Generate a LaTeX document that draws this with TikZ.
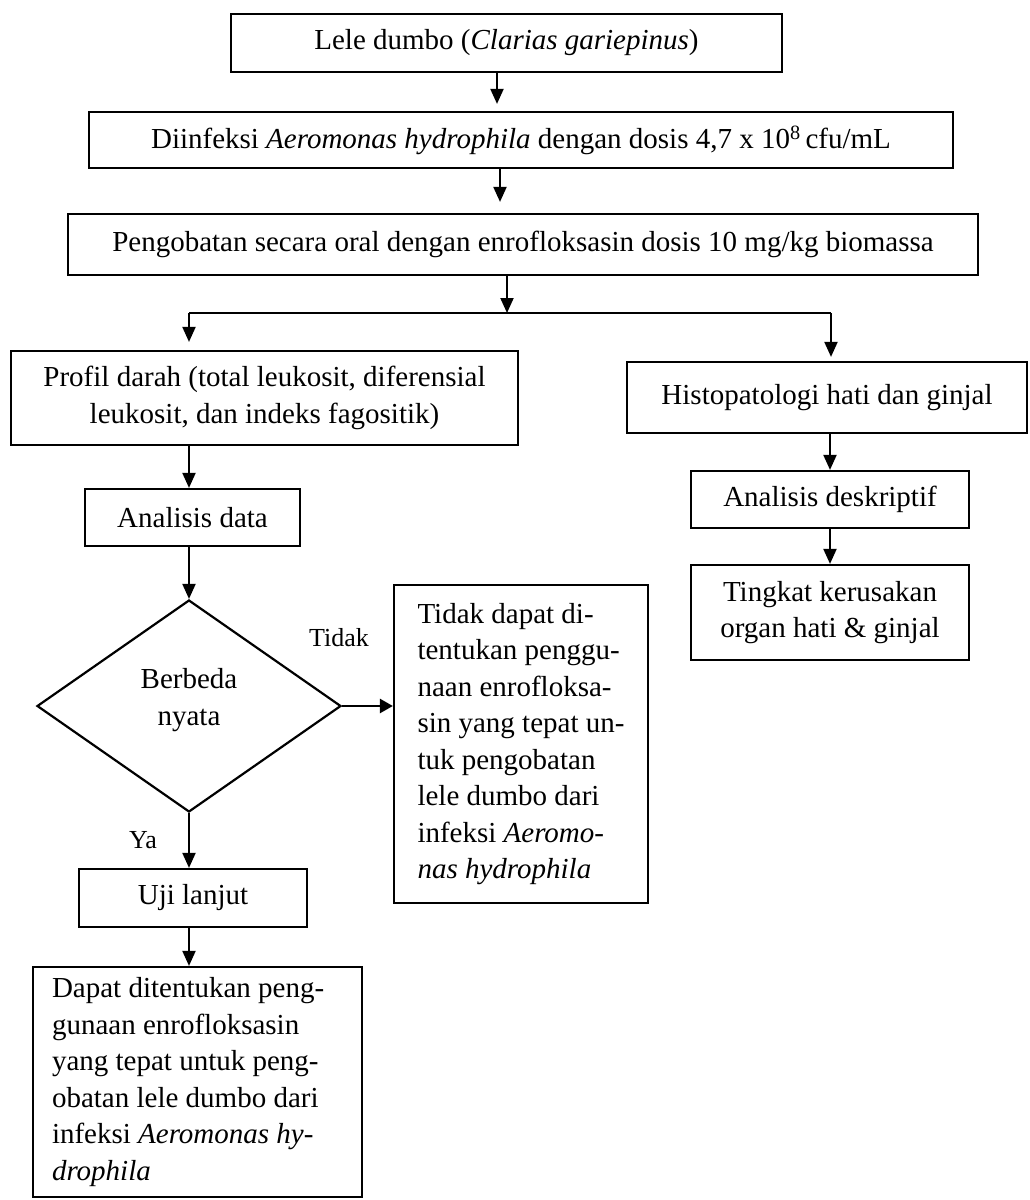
\documentclass[tikz,border=0pt]{standalone}
\usepackage{fontspec}
\setmainfont{Liberation Serif}
\usetikzlibrary{arrows.meta,shapes.geometric,calc}
\begin{document}
\begin{tikzpicture}[x=1pt,y=-1pt,
  box/.style={draw,line width=2.2pt,inner sep=0pt,align=center,font=\fontsize{29}{36.5}\selectfont},
  tbox/.style={draw,line width=2.2pt,inner sep=0pt,align=left,font=\fontsize{29}{36.5}\selectfont},
  arr/.style={line width=2pt,-{Triangle[length=15pt,width=13pt]}},
  lbl/.style={inner sep=0pt,font=\fontsize{26}{30}\selectfont}]
\useasboundingbox (0,0) rectangle (1029,1200);
% nodes
\node[box,minimum width=551pt,minimum height=58pt] (b1) at (506.5,43) {Lele dumbo (\textit{Clarias gariepinus})};
\node[box,minimum width=864pt,minimum height=56pt] (b2) at (521,140) {Diinfeksi \textit{Aeromonas hydrophila} dengan dosis 4,7 x 10\textsuperscript{8}\,cfu/mL};
\node[box,minimum width=910pt,minimum height=61pt] (b3) at (523,244.5) {Pengobatan secara oral dengan enrofloksasin dosis 10 mg/kg biomassa};
\node[box,minimum width=507pt,minimum height=94pt] (pr) at (264.5,398) {Profil darah (total leukosit, diferensial\\leukosit, dan indeks fagositik)};
\node[box,minimum width=400pt,minimum height=71pt] (hi) at (827,397.5) {Histopatologi hati dan ginjal};
\node[box,minimum width=215pt,minimum height=57pt] (ad) at (192.5,517.5) {Analisis data};
\node[box,minimum width=278pt,minimum height=57pt] (de) at (830,499.5) {Analisis deskriptif};
\node[box,minimum width=278pt,minimum height=95pt] (tk) at (830,612.5) {Tingkat kerusakan\\organ hati \& ginjal};
\node[draw,line width=2.2pt,diamond,minimum width=304pt,minimum height=212pt,inner sep=0pt,align=center,font=\fontsize{29}{36.5}\selectfont] (d) at (189,706) {Berbeda\\nyata\\[-18pt]};
\node[tbox,minimum width=254pt,minimum height=318pt] (td) at (521,744) {Tidak dapat di-\\tentukan penggu-\\naan enrofloksa-\\sin yang tepat un-\\tuk pengobatan\\lele dumbo dari\\infeksi \textit{Aeromo-}\\\textit{nas hydrophila}};
\node[box,minimum width=228pt,minimum height=58pt] (uj) at (193,898) {Uji lanjut};
\node[tbox,align=flush left,text width=291pt,inner xsep=19pt,minimum height=230pt] (dp) at (197.5,1082) {Dapat ditentukan peng-\\gunaan enrofloksasin\\yang tepat untuk peng-\\obatan lele dumbo dari\\infeksi \textit{Aeromonas hy-}\\\textit{drophila}};
\node[lbl] (ltidak) at (339,638) {Tidak};
\node[lbl] (lya) at (143,840) {Ya};
% helper coordinates
\coordinate (x1) at (497,0);
\coordinate (x2) at (500,0);
\coordinate (j) at (507,313);
\coordinate (jl) at (189,313);
\coordinate (jr) at (831,313);
% connectors
\draw[arr,shorten >=7pt] (b1.south -| x1) -- (b2.north -| x1);
\draw[arr,shorten >=11pt] (b2.south -| x2) -- (b3.north -| x2);
\draw[arr] (b3.south -| j) -- (j);
\draw[line width=2pt] (jl) -- (jr);
\draw[arr,shorten >=8pt] (jl) -- (jl |- pr.north);
\draw[arr,shorten >=4pt] (jr) -- (jr |- hi.north);
\draw[arr] (d.north |- pr.south) -- (d.north |- ad.north);
\draw[arr] (d.north |- ad.south) -- (d.north);
\draw[line width=2.5pt,-{Triangle[length=13pt,width=14pt]}] (d.east) -- (d.east -| td.west);
\draw[arr] (d.south) -- (d.south |- uj.north);
\draw[arr] (d.south |- uj.south) -- (d.south |- dp.north);
\draw[arr] (de.north |- hi.south) -- (de.north);
\draw[arr] (de.south) -- (tk.north);
\end{tikzpicture}
\end{document}
